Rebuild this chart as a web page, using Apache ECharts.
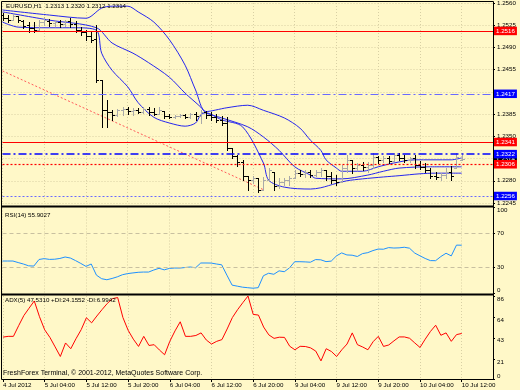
<!DOCTYPE html>
<html>
<head>
<meta charset="utf-8">
<script src="https://cdn.jsdelivr.net/npm/echarts@6/dist/echarts.min.js"></script>
<style>
html,body{margin:0;padding:0;background:#FFF8C8;}
#c{width:520px;height:390px;}
</style>
</head>
<body>
<div id="c"></div>
<script>
// ---------- data ----------
const timeLabels = ['4 Jul 2012','5 Jul 04:00','5 Jul 12:00','5 Jul 20:00','6 Jul 04:00','6 Jul 12:00',
  '6 Jul 20:00','9 Jul 04:00','9 Jul 12:00','9 Jul 20:00','10 Jul 04:00','10 Jul 12:00'];

const barOpen = [1.2541,1.2536,1.2533,1.2540,1.2532,1.2525,1.2521,1.2518,1.2530,1.2532,
  1.2529,1.2530,1.2527,1.2532,1.2527,1.2518,1.2514,1.2508,1.2503,1.2439,
  1.2392,1.2388,1.2384,1.2392,1.2393,1.2390,1.2392,1.2388,1.2393,1.2388,
  1.2385,1.2390,1.2382,1.2380,1.2382,1.2384,1.2380,1.2385,1.2382,1.2388,
  1.2384,1.2380,1.2376,1.2371,1.2332,1.2319,1.2310,1.2288,1.2281,1.2284,
  1.2266,1.2281,1.2294,1.2272,1.2278,1.2281,1.2284,1.2292,1.2291,1.2294,
  1.2289,1.2294,1.2297,1.2288,1.2281,1.2278,1.2300,1.2313,1.2300,1.2305,
  1.2302,1.2305,1.2317,1.2313,1.2316,1.2311,1.2321,1.2316,1.2313,1.2316,
  1.2305,1.2302,1.2297,1.2288,1.2286,1.2289,1.2294,1.2300,1.2313];
const barHigh = [1.2544,1.2541,1.2543,1.2540,1.2533,1.2530,1.2530,1.2533,1.2538,1.2535,
  1.2533,1.2533,1.2533,1.2536,1.2532,1.2522,1.2517,1.2514,1.2525,1.2439,
  1.2407,1.2392,1.2393,1.2396,1.2396,1.2395,1.2395,1.2396,1.2396,1.2395,
  1.2396,1.2390,1.2385,1.2384,1.2385,1.2385,1.2387,1.2388,1.2392,1.2390,
  1.2388,1.2385,1.2382,1.2380,1.2332,1.2321,1.2313,1.2288,1.2288,1.2284,
  1.2286,1.2300,1.2294,1.2284,1.2284,1.2288,1.2297,1.2297,1.2297,1.2297,
  1.2297,1.2300,1.2297,1.2294,1.2289,1.2305,1.2321,1.2313,1.2308,1.2310,
  1.2310,1.2324,1.2319,1.2319,1.2319,1.2324,1.2324,1.2321,1.2317,1.2321,
  1.2311,1.2308,1.2300,1.2294,1.2292,1.2300,1.2303,1.2324,1.2320];
const barLow = [1.2533,1.2530,1.2533,1.2530,1.2521,1.2514,1.2514,1.2518,1.2525,1.2524,
  1.2524,1.2522,1.2524,1.2522,1.2514,1.2510,1.2502,1.2499,1.2436,1.2365,
  1.2365,1.2376,1.2382,1.2384,1.2385,1.2384,1.2387,1.2387,1.2384,1.2384,
  1.2385,1.2379,1.2379,1.2379,1.2380,1.2379,1.2379,1.2376,1.2371,1.2379,
  1.2376,1.2373,1.2368,1.2328,1.2316,1.2303,1.2281,1.2266,1.2277,1.2262,
  1.2266,1.2281,1.2266,1.2269,1.2273,1.2273,1.2284,1.2288,1.2286,1.2286,
  1.2288,1.2288,1.2281,1.2277,1.2273,1.2278,1.2294,1.2292,1.2297,1.2297,
  1.2294,1.2300,1.2308,1.2310,1.2308,1.2311,1.2313,1.2310,1.2310,1.2300,
  1.2299,1.2294,1.2284,1.2283,1.2281,1.2284,1.2281,1.2300,1.2312];
const barClose = [1.2536,1.2533,1.2540,1.2533,1.2524,1.2521,1.2518,1.2530,1.2533,1.2529,
  1.2530,1.2527,1.2532,1.2527,1.2518,1.2514,1.2508,1.2502,1.2439,1.2392,
  1.2388,1.2384,1.2392,1.2393,1.2390,1.2392,1.2388,1.2393,1.2388,1.2385,
  1.2392,1.2382,1.2380,1.2382,1.2384,1.2380,1.2385,1.2382,1.2388,1.2384,
  1.2380,1.2376,1.2371,1.2332,1.2319,1.2310,1.2288,1.2281,1.2284,1.2266,
  1.2281,1.2297,1.2272,1.2278,1.2281,1.2284,1.2292,1.2291,1.2294,1.2289,
  1.2294,1.2297,1.2288,1.2281,1.2278,1.2300,1.2313,1.2300,1.2305,1.2302,
  1.2305,1.2317,1.2313,1.2316,1.2311,1.2321,1.2316,1.2313,1.2316,1.2305,
  1.2302,1.2297,1.2288,1.2286,1.2289,1.2294,1.2288,1.2317,1.2314];

// Bollinger-style band lines: [bar index, price]
const bandUpper = [[0,1.2549],[9,1.2541],[16,1.2536],[19,1.2552],[21,1.2555],[24,1.2555],[26,1.2546],
  [29,1.2530],[32,1.2502],[35,1.2462],[37,1.2423],[39,1.2389],[43,1.2395],[47,1.2399],[50,1.2391],
  [54,1.2379],[57,1.2363],[59,1.2344],[61,1.2328],[62,1.2313],[64,1.2300],[65,1.2295],[69,1.2295],
  [72,1.2302],[75,1.2308],[79,1.2313],[86,1.2313],[88,1.2316]];
const bandMiddle = [[0,1.2546],[9,1.2533],[18,1.2521],[21,1.2497],[25,1.2481],[28,1.2466],[32,1.2443],
  [35,1.2418],[38,1.2396],[39,1.2387],[42,1.2379],[47,1.2365],[50,1.2349],[53,1.2328],[56,1.2302],
  [59,1.2289],[60,1.2284],[65,1.2283],[70,1.2289],[73,1.2295],[76,1.2300],[82,1.2302],[88,1.2302]];
const bandLower = [[0,1.2530],[3,1.2522],[9,1.2521],[14,1.2521],[18,1.2517],[19,1.2481],[21,1.2454],
  [24,1.2428],[26,1.2403],[29,1.2380],[32,1.2371],[35,1.2366],[37,1.2371],[38,1.2384],[39,1.2387],
  [42,1.2376],[46,1.2365],[50,1.2308],[51,1.2281],[54,1.2270],[59,1.2267],[61,1.2269],[64,1.2276],
  [66,1.2280],[69,1.2283],[73,1.2286],[76,1.2288],[80,1.2291],[83,1.2292],[88,1.2292]];
const trendLine = [[0,1.2453],[50,1.2266]];

const levelValues = [1.2516, 1.2417, 1.2341, 1.2322, 1.2306, 1.2256];
const currentPrice = 1.2314;

const rsiValues = [37.4,37.4,37.4,35.6,33.9,31.8,31.5,39.2,40.2,39.3,
  39.5,40.4,42.1,40.9,37.9,34.6,31.1,33.9,20.9,16.7,
  15.5,17.0,18.9,21.4,22.7,23.5,24.2,24.5,24.5,26.9,
  28.9,27.1,28.8,29.2,29.2,29.8,30.4,29.5,35.1,35.1,
  35.0,33.9,33.0,20.9,9.2,8.0,6.8,6.2,5.6,6.2,
  20.2,23.1,21.9,25.9,24.9,29.4,36.6,36.6,36.4,36.0,
  39.1,38.8,36.7,37.3,43.4,46.9,44.5,44.2,42.7,46.1,
  47.2,49.6,51.4,51.2,53.1,52.6,52.8,53.5,52.4,46.7,
  43.5,40.4,37.9,37.8,42.6,46.5,43.4,56.0,55.9];
const adxValues = [43.7,44.5,44.5,55.6,66.2,73.9,81.4,65.0,51.3,43.4,
  33.5,23.5,37.6,31.6,42.0,51.5,63.9,58.6,65.7,72.4,
  78.8,83.8,85.0,64.2,50.9,41.6,34.0,44.5,35.0,35.8,
  30.3,25.3,39.3,50.2,59.7,44.5,44.5,45.4,48.1,40.7,
  36.5,39.3,41.1,52.2,64.1,72.3,79.6,86.6,67.4,66.7,
  54.2,46.0,42.4,43.6,43.4,34.2,30.5,34.1,33.9,32.5,
  29.1,18.9,31.6,28.7,23.5,30.5,36.5,48.1,35.8,33.4,
  30.5,38.9,44.5,34.0,35.5,39.8,43.9,43.9,42.5,37.6,
  32.9,41.6,49.6,56.1,45.6,48.1,39.3,46.3,47.5];

const priceMin = 1.2245, priceMax = 1.2560, priceStep = 0.0035;
const rsiTicks = [0, 30, 70, 100];
const rsiLevels = [30, 70];
const adxTicks = [0, 21, 43, 64, 86];
const adxMax = 86.6;

// ---------- chart ----------
const FONT = "'Liberation Sans', Arial, sans-serif";
const cats = Array.from({length: 95}, (_, i) => String(i));
const isLabelIdx = i => i % 8 === 0 && i / 8 < timeLabels.length;
const gridLine = {color: '#D8D0A4', type: [1, 2], width: 1};

function xAxisFor(g, showLabels) {
  return {
    type: 'category', gridIndex: g, data: cats, boundaryGap: false,
    axisLine: {show: false},
    axisTick: {show: showLabels, interval: (i) => isLabelIdx(i), length: 3, lineStyle: {color: '#000'}},
    axisLabel: {show: showLabels, interval: (i) => isLabelIdx(i), formatter: (v, i) => timeLabels[i / 8],
      align: 'left', fontSize: 6.2, color: '#000', margin: 3, fontFamily: FONT},
    splitLine: {show: true, interval: (i) => isLabelIdx(i), lineStyle: gridLine}
  };
}

const barData = barOpen.map((o, i) => [i, o, barHigh[i], barLow[i], barClose[i]]);

function renderOHLC(params, api) {
  const k = api.value(0);
  const o = api.coord([k, api.value(1)]);
  const h = api.coord([k, api.value(2)]);
  const l = api.coord([k, api.value(3)]);
  const c = api.coord([k, api.value(4)]);
  const x = Math.round(o[0]) + 0.5;
  const up = api.value(4) >= api.value(1);
  const col = up ? '#A9A9A9' : '#000000';
  const oy = Math.round(o[1]) + 0.5, cy = Math.round(c[1]) + 0.5;
  return {
    type: 'group',
    children: [
      {type: 'line', shape: {x1: x, y1: Math.round(h[1]), x2: x, y2: Math.round(l[1]) + 1}, style: {stroke: col, lineWidth: 1}},
      {type: 'line', shape: {x1: x - 2.5, y1: oy, x2: x, y2: oy}, style: {stroke: col, lineWidth: 1}},
      {type: 'line', shape: {x1: x, y1: cy, x2: x + 2.5, y2: cy}, style: {stroke: col, lineWidth: 1}}
    ]
  };
}

const levelStyles = [
  {color: '#FF0000', width: 1.2, type: 'solid', box: '#FF0000'},
  {color: '#6A6AFF', width: 1, type: [8, 3, 2, 3], box: '#0000FF'},
  {color: '#FF0000', width: 1.2, type: 'solid', box: '#FF0000'},
  {color: '#0000FF', width: 1.5, type: [8, 3, 2, 3], box: '#0000FF'},
  {color: '#FF0000', width: 1.2, type: [2, 2], box: '#FF0000'},
  {color: '#6A6AFF', width: 1, type: [2, 2], box: '#0000FF'}
];

function boxLabel(bg, v) {
  return {show: true, position: 'end', distance: 1, formatter: v.toFixed(4),
    backgroundColor: bg, color: '#FFFFFF', fontSize: 6.2, fontFamily: FONT, padding: [1.5, 2, 1, 2]};
}

const markData = [{yAxis: currentPrice, lineStyle: {color: 'rgba(0,0,0,0)', width: 1}, label: boxLabel('#000000', currentPrice)}]
  .concat(levelValues.map((v, i) => ({
    yAxis: v,
    lineStyle: {color: levelStyles[i].color, width: levelStyles[i].width, type: levelStyles[i].type},
    label: boxLabel(levelStyles[i].box, v)
  })));

const bandColor = '#2626EE';
const textStyleBase = {fontSize: 6.2, fontWeight: 'normal', color: '#000', fontFamily: FONT};

const option = {
  backgroundColor: '#FFF8C8',
  animation: false,
  textStyle: {fontFamily: FONT},
  title: [
    {text: 'EURUSD,H1  1.2313 1.2320 1.2312 1.2314', left: 6, top: 3, padding: 0, textStyle: textStyleBase},
    {text: 'RSI(14) 55.9027', left: 5, top: 212, padding: 0, textStyle: textStyleBase},
    {text: 'ADX(5) 47.5310 +DI:24.1552 -DI:6.9942', left: 5, top: 297.5, padding: 0, textStyle: textStyleBase},
    {text: 'FreshForex Terminal, \u00A9 2001-2012, MetaQuotes Software Corp.', left: 3, top: 370, padding: 0,
      textStyle: Object.assign({}, textStyleBase, {fontSize: 7})}
  ],
  grid: [
    {left: 2.5, top: 3, width: 490.5, height: 200},
    {left: 2.5, top: 207.5, width: 490.5, height: 85.5},
    {left: 2.5, top: 296, width: 490.5, height: 83}
  ],
  xAxis: [xAxisFor(0, false), xAxisFor(1, false), xAxisFor(2, true)],
  yAxis: [
    {type: 'value', gridIndex: 0, position: 'right', min: priceMin, max: priceMax, interval: priceStep,
      axisLine: {show: false}, axisTick: {show: true, length: 2, lineStyle: {color: '#000'}},
      axisLabel: {formatter: (v) => v.toFixed(4), fontSize: 6.2, color: '#000', margin: 4, fontFamily: FONT},
      splitLine: {show: true, lineStyle: gridLine}},
    {type: 'value', gridIndex: 1, position: 'right', min: 0, max: 100,
      axisLine: {show: false},
      axisTick: {show: true, length: 2, customValues: rsiTicks, lineStyle: {color: '#000'}},
      axisLabel: {customValues: rsiTicks, fontSize: 6.2, color: '#000', margin: 4, fontFamily: FONT,
        verticalAlignMinLabel: 'bottom', verticalAlignMaxLabel: 'top'},
      splitLine: {show: false}},
    {type: 'value', gridIndex: 2, position: 'right', min: 0, max: adxMax,
      axisLine: {show: false},
      axisTick: {show: true, length: 2, customValues: adxTicks, lineStyle: {color: '#000'}},
      axisLabel: {customValues: adxTicks, fontSize: 6.2, color: '#000', margin: 4, fontFamily: FONT,
        verticalAlign: 'top', verticalAlignMinLabel: 'bottom'},
      splitLine: {show: false}}
  ],
  series: [
    {type: 'line', name: 'trend', xAxisIndex: 0, yAxisIndex: 0, data: trendLine, symbol: 'none',
      lineStyle: {color: '#FF5A5A', width: 1, type: [2, 2]}, z: 1,
      markLine: {symbol: 'none', silent: true, animation: false, precision: 4, data: markData}},
    {type: 'line', name: 'upper', xAxisIndex: 0, yAxisIndex: 0, data: bandUpper, symbol: 'none', smooth: 0.3,
      lineStyle: {color: bandColor, width: 1}, z: 3},
    {type: 'line', name: 'middle', xAxisIndex: 0, yAxisIndex: 0, data: bandMiddle, symbol: 'none', smooth: 0.3,
      lineStyle: {color: bandColor, width: 1}, z: 3},
    {type: 'line', name: 'lower', xAxisIndex: 0, yAxisIndex: 0, data: bandLower, symbol: 'none', smooth: 0.3,
      lineStyle: {color: bandColor, width: 1}, z: 3},
    {type: 'custom', name: 'bars', xAxisIndex: 0, yAxisIndex: 0, data: barData, renderItem: renderOHLC,
      encode: {x: 0, y: [1, 2, 3, 4]}, clip: true, z: 4},
    {type: 'line', name: 'RSI', xAxisIndex: 1, yAxisIndex: 1, data: rsiValues, symbol: 'none',
      lineStyle: {color: '#1E90FF', width: 1}, z: 3,
      markLine: {symbol: 'none', silent: true, animation: false, label: {show: false},
        lineStyle: {color: '#C8C0A0', type: [4, 3], width: 1},
        data: rsiLevels.map(v => ({yAxis: v}))}},
    {type: 'line', name: 'ADX', xAxisIndex: 2, yAxisIndex: 2, data: adxValues, symbol: 'none',
      lineStyle: {color: '#FF0000', width: 1}, z: 3}
  ],
  graphic: [
    {type: 'rect', silent: true, z: 100, shape: {x: 1.5, y: 1.5, width: 492, height: 378},
      style: {fill: 'none', stroke: '#000', lineWidth: 1}},
    {type: 'rect', silent: true, z: 100, shape: {x: 1, y: 205.5, width: 493, height: 2}, style: {fill: '#000'}},
    {type: 'rect', silent: true, z: 100, shape: {x: 1, y: 293.5, width: 493, height: 2}, style: {fill: '#000'}}
  ]
};

const chart = echarts.init(document.getElementById('c'), null, {renderer: 'canvas'});
chart.setOption(option);
</script>
</body>
</html>
